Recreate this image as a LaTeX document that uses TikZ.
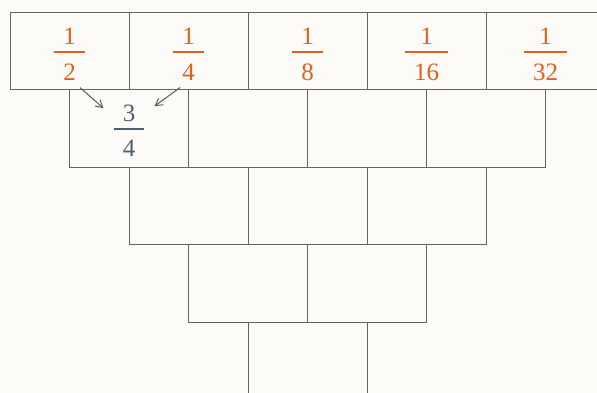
\documentclass[tikz,border=0pt]{standalone}
\usepackage{fontspec}
\setmainfont{Liberation Serif}
\usepackage{xcolor}
\usepackage{tikz}
\usetikzlibrary{arrows.meta,positioning}

\definecolor{fracorange}{RGB}{226,96,30}
\definecolor{fracslate}{RGB}{80,94,108}
\definecolor{brickline}{RGB}{100,100,100}
\definecolor{paper}{RGB}{252,251,248}

% fraction with a long bar
\newcommand{\frc}[2]{{\setlength{\arrayrulewidth}{1.7pt}%
  \begin{tabular}{@{\hspace{9pt}}c@{\hspace{9pt}}}#1\\[-1.5pt]\hline\rule{0pt}{27pt}#2\end{tabular}}}

\begin{document}
\begin{tikzpicture}[
    brick/.style={rectangle, draw=brickline, line width=0.9pt, minimum width=119pt, minimum height=77.5pt, inner sep=0pt, outer sep=0pt},
    fr/.style={inner sep=0pt, font=\fontsize{25}{28}\selectfont},
    arr/.style={-{Straight Barb[length=7pt, width=8pt]}, line width=1pt, draw=fracslate}
]
    \fill [paper] (0,0) rectangle (597pt,-393pt);
    \useasboundingbox (0,0) rectangle (597pt,-393pt);
    \clip (0,0) rectangle (597pt,-393pt);

    % top row
    \node [brick, anchor=north west] (b11) at (10pt,-12pt) {};
    \node [brick, right=0pt of b11] (b12) {};
    \node [brick, right=0pt of b12] (b13) {};
    \node [brick, right=0pt of b13] (b14) {};
    \node [brick, right=0pt of b14] (b15) {};
    % second row
    \node [brick, below right=0pt and 0pt of b11.south] (b21) {};
    \node [brick, right=0pt of b21] (b22) {};
    \node [brick, right=0pt of b22] (b23) {};
    \node [brick, right=0pt of b23] (b24) {};
    % third row
    \node [brick, below right=0pt and 0pt of b21.south] (b31) {};
    \node [brick, right=0pt of b31] (b32) {};
    \node [brick, right=0pt of b32] (b33) {};
    % fourth row
    \node [brick, below right=0pt and 0pt of b31.south] (b41) {};
    \node [brick, right=0pt of b41] (b42) {};
    % fifth row
    \node [brick, below right=0pt and 0pt of b41.south] (b51) {};

    % fractions
    \node [fr, text=fracorange] (f12) at ([yshift=-6pt]b11.center) {\frc{1}{2}};
    \node [fr, text=fracorange] (f14) at ([yshift=-6pt]b12.center) {\frc{1}{4}};
    \node [fr, text=fracorange] (f18) at ([yshift=-6pt]b13.center) {\frc{1}{8}};
    \node [fr, text=fracorange] (f116) at ([yshift=-6pt]b14.center) {\frc{1}{16}};
    \node [fr, text=fracorange] (f132) at ([yshift=-6pt]b15.center) {\frc{1}{32}};
    \node [fr, text=fracslate] (f34) at ([yshift=-5pt]b21.center) {\frc{3}{4}};

    \draw [arr] ([xshift=10.5pt, yshift=1.2pt]f12.south) -- ([xshift=-25.5pt, yshift=-7pt]f34.north);
    \draw [arr] ([xshift=-8.5pt, yshift=1.2pt]f14.south) -- ([xshift=25.5pt, yshift=-5pt]f34.north);
\end{tikzpicture}
\end{document}
